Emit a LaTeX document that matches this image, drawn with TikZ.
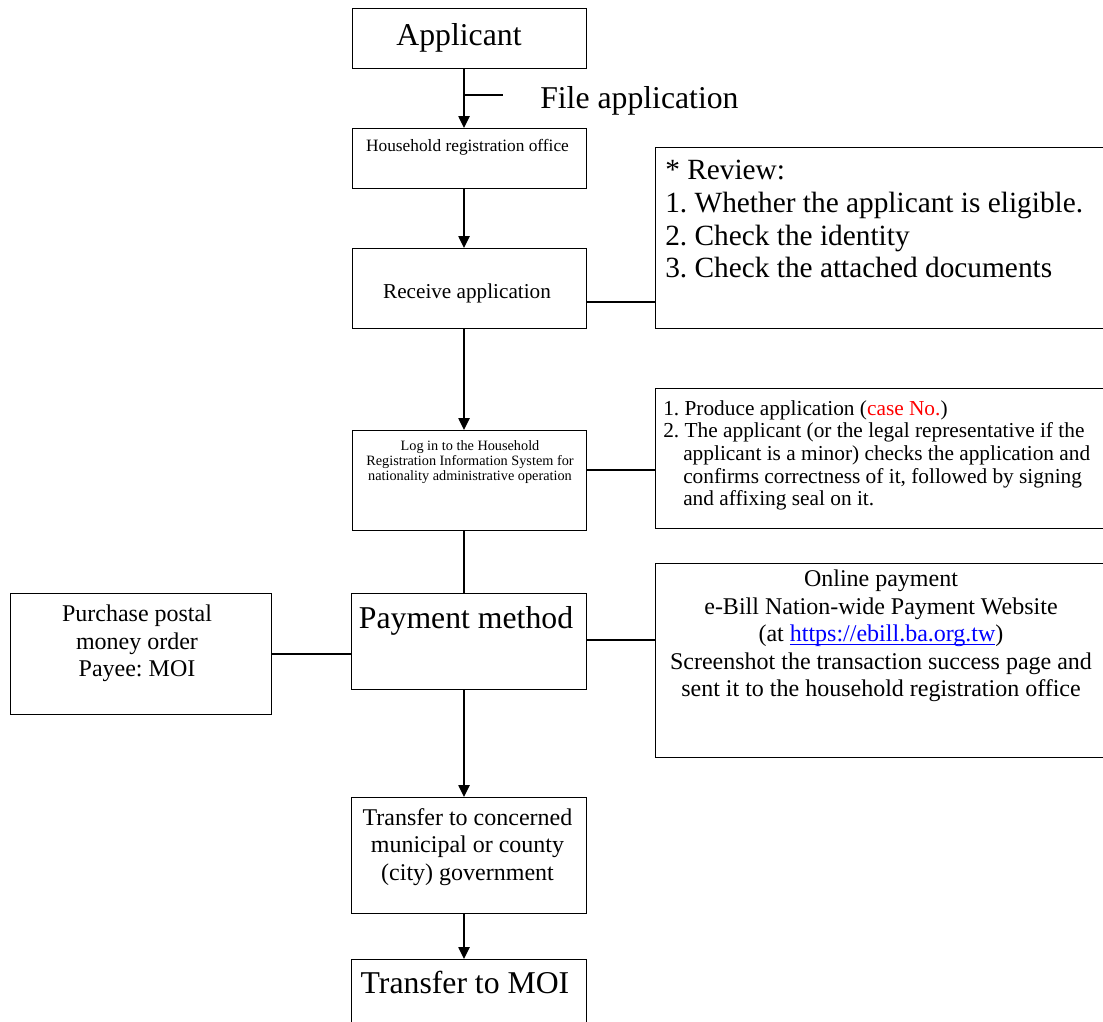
\documentclass[tikz,border=0pt]{standalone}
\usepackage{fontspec}
\setmainfont{Liberation Serif}
\usetikzlibrary{arrows.meta}
\frenchspacing
\newsavebox{\myulbox}
\newcommand{\myul}[1]{\sbox{\myulbox}{#1}\rlap{\rule[-2pt]{\wd\myulbox}{0.75pt}}\usebox{\myulbox}}
\begin{document}
\begin{tikzpicture}[x=0.75pt,y=-0.75pt,
  box/.style={draw, line width=1.1pt, inner sep=0pt, anchor=north west},
  conn/.style={line width=1.1pt},
  arr/.style={line width=1.1pt, -{Triangle[length=9pt,width=8.5pt]}},
  txt/.style={inner sep=0pt, anchor=base},
  mtxt/.style={inner sep=0pt, anchor=north},
  bigfont/.style={font=\fontsize{23.8}{28}\selectfont},
  midfont/.style={font=\fontsize{18}{20.6}\selectfont},
]
\useasboundingbox (0,0) rectangle (1103,1021);
\clip (0,0) rectangle (1103,1021);

% boxes
\node[box, minimum width=175.5pt, minimum height=45pt] (app) at (352,8) {};
\node[box, minimum width=175.5pt, minimum height=45pt] (hh) at (352,128) {};
\node[box, minimum width=175.5pt, minimum height=60pt] (rec) at (352,248) {};
\node[box, minimum width=175.5pt, minimum height=75pt] (login) at (352,430) {};
\node[box, minimum width=176.25pt, minimum height=72pt] (pay) at (351,593) {};
\node[box, minimum width=176.25pt, minimum height=87pt] (trans) at (351,797) {};
\node[box, minimum width=176.25pt, minimum height=60pt] (moi) at (351,959) {};
\node[box, minimum width=195.75pt, minimum height=90.75pt] (purch) at (10,593) {};
\node[box, minimum width=345pt, minimum height=135.75pt] (review) at (655,147) {};
\node[box, minimum width=345pt, minimum height=105pt] (prod) at (655,388) {};
\node[box, minimum width=345pt, minimum height=145.5pt] (online) at (655,563) {};

% helper coordinates
\coordinate (cx) at (464,0);
\coordinate (tick) at (503,95);
\coordinate (yrev) at (0,302);
\coordinate (yprod) at (0,470);
\coordinate (ypurch) at (0,654);
\coordinate (yonline) at (0,640);

% connectors
\draw[arr] (app.south -| cx) -- (hh.north -| cx);
\draw[conn] (tick -| cx) -- (tick);
\draw[arr] (hh.south -| cx) -- (rec.north -| cx);
\draw[conn] (rec.east |- yrev) -- (review.west |- yrev);
\draw[arr] (rec.south -| cx) -- (login.north -| cx);
\draw[conn] (login.east |- yprod) -- (prod.west |- yprod);
\draw[conn] (login.south -| cx) -- (pay.north -| cx);
\draw[conn] (pay.west |- ypurch) -- (purch.east |- ypurch);
\draw[conn] (pay.east |- yonline) -- (online.west |- yonline);
\draw[arr] (pay.south -| cx) -- (trans.north -| cx);
\draw[arr] (trans.south -| cx) -- (moi.north -| cx);

% texts
\node[txt, bigfont] (tapp) at (459,45) {Applicant};
\node[txt, bigfont, anchor=base west] (tfile) at (540,108) {File application};
\node[txt, font=\fontsize{13}{15}\selectfont] (thh) at (467.5,151) {Household registration office};
\node[txt, font=\fontsize{15.9}{18}\selectfont] (trec) at (467,298) {Receive application};
\node[mtxt, align=center, font=\fontsize{10.7}{11.5}\selectfont] (tlogin) at (470,440)
  {Log in to the Household\\Registration Information System for\\nationality administrative operation};
\node[inner sep=0pt, anchor=north west, align=left, font=\fontsize{22}{24.5}\selectfont] (treview) at (665,160)
  {* Review:\\1. Whether the applicant is eligible.\\2. Check the identity\\3. Check the attached documents};
\node[inner sep=0pt, anchor=north west, align=left, font=\fontsize{16}{17}\selectfont] (tprod) at (663,400)
  {1. Produce application ({\color{red}case No.})\\
   2. The applicant (or the legal representative if the\\
   \hspace*{15pt}applicant is a minor) checks the application and\\
   \hspace*{15pt}confirms correctness of it, followed by signing\\
   \hspace*{15pt}and affixing seal on it.};
\node[txt, bigfont] (tpay) at (466,628) {Payment method};
\node[mtxt, align=center, midfont] (tpurch) at (137,605)
  {Purchase postal\\money order\\Payee: MOI};
\node[mtxt, align=center, midfont] (tonline) at (881,570)
  {Online payment\\e-Bill Nation-wide Payment Website\\(at {\color{blue}\myul{https://ebill.ba.org.tw}})\\Screenshot the transaction success page and\\sent it to the household registration office};
\node[mtxt, align=center, midfont] (ttrans) at (467.5,808)
  {Transfer to concerned\\municipal or county\\(city) government};
\node[txt, bigfont] (tmoi) at (465,993) {Transfer to MOI};
\end{tikzpicture}
\end{document}
